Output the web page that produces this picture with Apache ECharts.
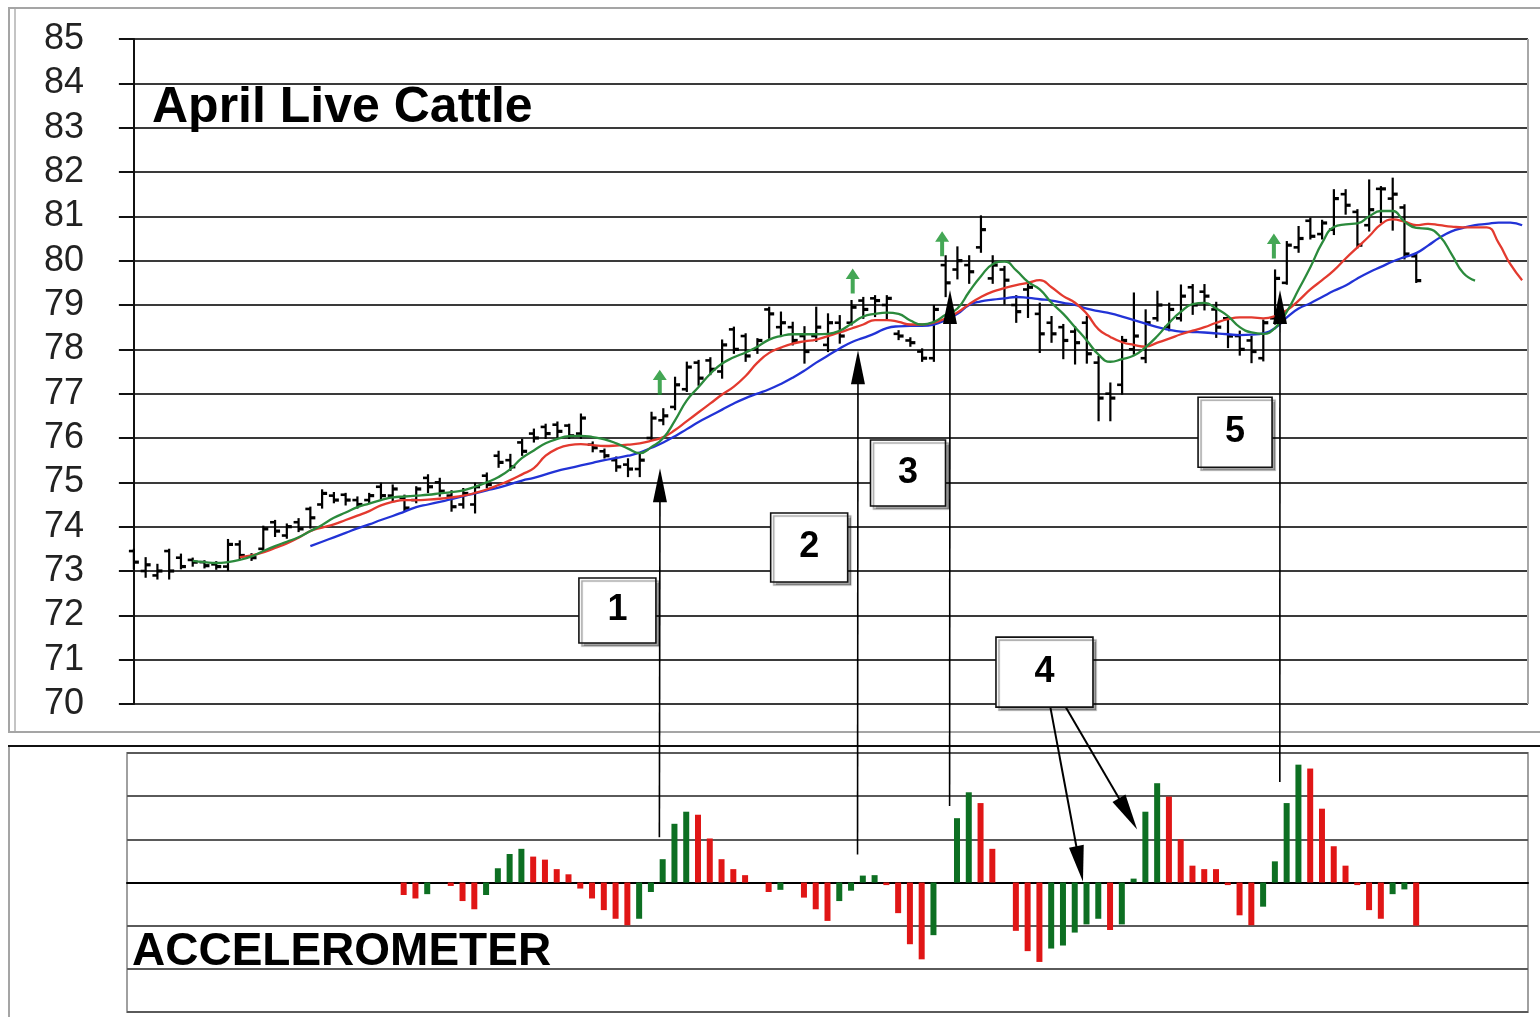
<!DOCTYPE html>
<html><head><meta charset="utf-8">
<script src="https://cdn.jsdelivr.net/npm/echarts@6/dist/echarts.min.js"></script>
<style>html,body{margin:0;padding:0;background:#fff}#c{width:1540px;height:1017px}</style>
</head><body><div id="c"></div><script>
// ---------- DATA ----------
const titleText = 'April Live Cattle';
const paneText = 'ACCELEROMETER';
const priceTicks = [70,71,72,73,74,75,76,77,78,79,80,81,82,83,84,85];
const slotCount = 119;

const opens = [73.45,73.0,72.9,73.45,73.3,73.25,73.2,73.15,73.1,73.6,
73.33,73.5,74.1,73.8,74.1,74.4,74.5,74.7,74.72,74.6,
74.6,74.9,74.7,74.65,74.6,75.1,75.0,74.7,74.5,74.5,
75.15,75.6,75.5,75.9,76.1,76.25,76.3,76.28,76.1,75.85,
75.7,75.5,75.4,75.3,76.0,76.4,76.7,77.1,77.7,77.75,
77.5,78.45,78.3,78.0,78.9,78.5,78.5,78.3,78.3,78.1,
78.6,78.6,79.1,79.15,79.0,78.35,78.2,77.95,77.8,79.9,
79.8,79.9,80.3,79.6,79.8,79.0,79.35,78.8,78.6,78.5,
78.4,78.6,77.7,77.0,77.2,78.0,77.8,78.7,78.5,78.7,
79.4,79.3,78.9,78.7,78.3,78.2,77.8,78.7,79.5,80.3,
80.9,80.6,80.7,81.5,81.1,80.8,81.62,81.4,81.2,80.1];
const highs = [73.48,73.29,73.14,73.48,73.37,73.28,73.22,73.2,73.7,73.67,
73.38,74.0,74.13,74.05,74.17,74.43,74.82,74.76,74.74,74.66,
74.74,74.97,74.93,74.7,74.89,75.16,75.08,74.8,74.85,74.97,
75.2,75.69,75.62,75.96,76.19,76.3,76.35,76.3,76.53,75.9,
75.74,75.56,75.52,75.63,76.57,76.65,77.36,77.7,77.74,77.8,
78.2,78.49,78.34,78.23,78.94,78.83,78.6,78.5,78.94,78.79,
78.75,79.09,79.16,79.2,79.2,78.41,78.25,78.0,78.98,80.1,
80.3,80.1,81.0,80.1,79.86,79.2,79.48,79.03,78.73,78.55,
78.5,78.73,77.83,77.23,78.28,79.26,78.88,79.3,79.03,79.44,
79.45,79.45,79.05,78.73,78.4,78.28,78.65,79.78,80.42,80.76,
80.95,80.9,81.59,81.59,81.14,81.81,81.66,81.85,81.25,80.16];
const lows = [73.06,72.87,72.83,72.83,73.06,73.12,73.08,73.05,73.02,73.29,
73.25,73.44,73.79,73.75,73.9,73.98,74.43,74.55,74.5,74.43,
74.55,74.63,74.6,74.36,74.55,74.78,74.7,74.36,74.43,74.32,
74.89,75.35,75.28,75.62,75.92,76.0,76.0,76.0,76.0,75.7,
75.56,75.26,75.14,75.14,75.97,76.31,76.65,77.06,77.2,77.44,
77.36,77.92,77.74,77.92,78.26,78.3,78.11,77.7,78.19,77.96,
78.15,78.56,78.71,78.75,78.7,78.23,78.08,77.74,77.74,79.2,
79.6,79.5,80.2,79.5,79.03,78.62,78.73,77.94,78.17,77.8,
77.68,77.7,76.4,76.4,77.0,77.9,77.71,78.65,78.43,78.65,
78.8,78.9,78.28,78.05,77.88,77.71,77.75,78.58,79.48,80.2,
80.5,80.5,80.6,81.06,80.3,80.68,80.87,80.7,80.05,79.52];
const closes = [73.2,73.14,73.0,73.0,73.1,73.2,73.12,73.1,73.6,73.35,
73.3,73.95,73.9,74.0,73.95,74.2,74.75,74.6,74.6,74.5,
74.7,74.7,74.85,74.42,74.85,74.9,74.8,74.45,74.75,74.9,
74.95,75.45,75.35,75.7,76.0,76.1,76.15,76.05,76.45,75.78,
75.6,75.35,75.3,75.5,76.45,76.5,77.2,77.6,77.35,77.55,
78.1,78.0,77.85,78.2,78.8,78.6,78.2,77.95,78.5,78.6,
78.3,78.95,78.9,79.1,79.15,78.3,78.15,77.8,78.9,79.5,
80.0,79.75,80.7,79.9,79.56,78.85,79.4,78.35,78.35,78.2,
78.15,77.9,76.9,76.9,78.2,78.3,78.6,79.0,78.9,79.2,
79.0,79.2,78.5,78.3,78.0,77.95,78.6,79.6,80.35,80.5,
80.55,80.85,81.4,81.25,80.35,81.15,81.62,81.5,80.15,79.55];

const greenStart = 5;
const greenMA = [73.23,73.2,73.18,73.2,73.25,73.33,73.45,73.56,73.66,73.76,
73.9,74.04,74.2,74.32,74.44,74.52,74.6,74.66,74.68,74.7,
74.72,74.75,74.78,74.82,74.9,75.0,75.12,75.3,75.55,75.72,
75.88,75.98,76.04,76.05,76.02,75.97,75.88,75.76,75.66,75.8,
76.0,76.4,76.85,77.15,77.45,77.68,77.82,77.93,78.06,78.22,
78.3,78.34,78.34,78.34,78.35,78.42,78.58,78.74,78.8,78.83,
78.8,78.65,78.56,78.62,78.78,78.92,79.3,79.65,79.92,79.98,
79.78,79.52,79.35,79.05,78.8,78.5,78.2,77.88,77.72,77.78,
77.86,78.05,78.3,78.6,78.85,79.02,79.05,78.92,78.75,78.5,
78.38,78.35,78.48,78.85,79.35,79.85,80.4,80.76,80.82,80.84,
81.0,81.12,81.12,80.88,80.74,80.72,80.55,80.15,79.72,79.55];
const redStart = 9;
const redMA = [73.31,73.35,73.42,73.52,73.62,73.75,73.9,73.98,74.05,74.15,
74.25,74.35,74.48,74.56,74.6,74.6,74.61,74.63,74.66,74.7,
74.76,74.84,74.94,75.05,75.18,75.32,75.6,75.76,75.84,75.86,
75.84,75.82,75.83,75.85,75.88,75.94,76.02,76.18,76.38,76.58,
76.78,76.98,77.16,77.4,77.7,77.92,78.04,78.13,78.18,78.22,
78.3,78.38,78.47,78.56,78.66,78.66,78.62,78.56,78.56,78.6,
78.7,78.83,79.02,79.18,79.3,79.38,79.45,79.5,79.56,79.4,
79.2,79.05,78.8,78.45,78.28,78.16,78.1,78.06,78.15,78.24,
78.34,78.42,78.5,78.6,78.68,78.72,78.72,78.7,78.75,78.88,
79.1,79.35,79.56,79.78,80.05,80.3,80.55,80.82,80.93,80.88,
80.8,80.83,80.8,80.77,80.75,80.75,80.75,80.4,79.92,79.56];
const blueStart = 15;
const blueMA = [73.56,73.66,73.76,73.86,73.96,74.05,74.15,74.24,74.34,74.44,
74.5,74.56,74.62,74.69,74.75,74.82,74.88,74.96,75.04,75.1,
75.18,75.26,75.32,75.38,75.44,75.5,75.55,75.6,75.67,75.78,
75.9,76.04,76.2,76.36,76.5,76.64,76.78,76.9,77.0,77.1,
77.22,77.36,77.52,77.7,77.86,78.02,78.16,78.26,78.36,78.48,
78.52,78.53,78.53,78.56,78.66,78.8,79.0,79.08,79.12,79.15,
79.18,79.16,79.13,79.1,79.05,79.0,78.92,78.86,78.81,78.74,
78.66,78.58,78.5,78.44,78.4,78.39,78.38,78.36,78.34,78.32,
78.33,78.36,78.48,78.72,78.92,79.04,79.18,79.32,79.44,79.6,
79.74,79.86,79.98,80.08,80.17,80.34,80.52,80.66,80.74,80.8,
80.83,80.86,80.86,80.8];

const accelStart = 23;
const accel = [-0.29,-0.37,-0.27,null,-0.08,-0.43,-0.62,-0.29,0.33,0.66,
0.78,0.6,0.53,0.31,0.19,-0.14,-0.37,-0.64,-0.84,-0.99,
-0.84,-0.22,0.54,1.36,1.64,1.57,1.02,0.54,0.31,0.17,
null,-0.22,-0.17,null,-0.35,-0.62,-0.89,-0.43,-0.19,0.16,
0.17,-0.06,-0.71,-1.43,-1.78,-1.22,null,1.49,2.09,1.84,
0.78,null,-1.12,-1.59,-1.84,-1.53,-1.46,-1.16,-0.97,-0.84,
-1.1,-0.97,0.09,1.64,2.30,1.99,1.0,0.39,0.31,0.31,
-0.06,-0.76,-0.99,-0.56,0.49,1.84,2.73,2.64,1.71,0.84,
0.39,-0.06,-0.64,-0.84,-0.27,-0.16,-1.0];

const signalIdx = [44.7, 61.1, 68.7, 96.9];
const signalVal = [77.26, 79.54, 80.38, 80.33];

const boxLabels = ['1','2','3','4','5'];
const boxIdx = [41.1, 57.4, 65.8, 77.4, 93.6];
const boxVal = [72.11, 73.53, 75.21, 70.72, 76.13];

const arrowIdx = [44.72, 61.55, 69.37, 97.42];
const arrowTipPrice = [75.32, 77.98, 79.34, 79.34];
const arrowBaseAccel = [1.05, 0.65, 1.77, 2.33];

const diagFromIdx = [77.9, 79.2];
const diagFromPrice = [69.93, 69.93];
const diagToIdx = [80.7, 85.3];
const diagToAccel = [0.02, 1.23];

// ---------- STYLE ----------
const FONT = "'Liberation Sans', Arial, sans-serif";
const boxSizes = [[77,65],[77,69],[75,66],[97,70],[74,70]];
const GREEN_H = '#0d6f22', RED_H = '#e01616';

const chart = echarts.init(document.getElementById('c'));

const ohlc = opens.map((o,i)=>[i,o,highs[i],lows[i],closes[i]]);
const maData = (start, arr) => arr.map((v,k)=>[start+k, v]);
const accelData = accel.map((v,k)=>[accelStart+k, v]);
const signalData = signalIdx.map((x,k)=>[x, signalVal[k]]);

const option = {
  animation:false,
  backgroundColor:'#fff',
  grid:[
    {left:128,right:12,top:39,height:665,show:false},
    {left:127,right:12,top:753,height:259,show:true,borderColor:'#a0a0a0',borderWidth:2}
  ],
  xAxis:[
    {type:'value',gridIndex:0,min:-0.5,max:slotCount-0.5,show:false},
    {type:'value',gridIndex:1,min:-0.5,max:slotCount-0.5,
     axisLine:{show:true,onZero:true,lineStyle:{color:'#000',width:2}},
     axisTick:{show:false},axisLabel:{show:false},splitLine:{show:false}}
  ],
  yAxis:[
    {type:'value',gridIndex:0,min:priceTicks[0],max:priceTicks[priceTicks.length-1],interval:1,
     axisLine:{show:true,lineStyle:{color:'#111',width:2}},
     axisTick:{show:true,length:15,lineStyle:{color:'#111',width:2}},
     axisLabel:{fontSize:36,color:'#222',margin:44,fontFamily:FONT},
     splitLine:{show:true,lineStyle:{color:'#3a3a3a',width:2}}},
    {type:'value',gridIndex:1,min:-3,max:3,interval:1,
     axisLine:{show:false},axisTick:{show:false},axisLabel:{show:false},
     splitLine:{show:true,lineStyle:{color:'#5a5a5a',width:2}}}
  ],
  series:[
    {type:'custom',xAxisIndex:0,yAxisIndex:0,z:2,data:ohlc,
     encode:{x:0,y:[1,2,3,4]},
     renderItem:function(params,api){
       const x=api.value(0);
       const o=api.coord([x,api.value(1)]), h=api.coord([x,api.value(2)]),
             l=api.coord([x,api.value(3)]), c=api.coord([x,api.value(4)]);
       return {type:'group',children:[
         {type:'line',shape:{x1:h[0],y1:h[1]-1,x2:l[0],y2:l[1]+1},style:{stroke:'#000',lineWidth:2.2}},
         {type:'line',shape:{x1:o[0]-5,y1:o[1],x2:o[0],y2:o[1]},style:{stroke:'#000',lineWidth:2.6}},
         {type:'line',shape:{x1:c[0],y1:c[1],x2:c[0]+5,y2:c[1]},style:{stroke:'#000',lineWidth:3.2}}
       ]};
     }},
    {type:'line',xAxisIndex:0,yAxisIndex:0,z:3,data:maData(blueStart,blueMA),smooth:true,showSymbol:false,
     lineStyle:{color:'#2233d6',width:2.3}},
    {type:'line',xAxisIndex:0,yAxisIndex:0,z:3,data:maData(redStart,redMA),smooth:true,showSymbol:false,
     lineStyle:{color:'#e33a2f',width:2.3}},
    {type:'line',xAxisIndex:0,yAxisIndex:0,z:3,data:maData(greenStart,greenMA),smooth:true,showSymbol:false,
     lineStyle:{color:'#2b8a3c',width:2.3}},
    {type:'scatter',xAxisIndex:0,yAxisIndex:0,z:4,data:signalData,
     symbol:'path://M7,0L14,10L9,10L9,24L5,24L5,10L0,10Z',symbolSize:[14,25],
     itemStyle:{color:'#15912a'}},
    {type:'bar',xAxisIndex:1,yAxisIndex:1,z:2,data:accelData,barWidth:6,
     itemStyle:{color:function(p){
       const k=p.dataIndex; const v=accel[k];
       const prev=(k>0 && accel[k-1]!=null)?accel[k-1]:0;
       return v>prev?GREEN_H:RED_H;
     }}}
  ]
};
chart.setOption(option);

// ---------- annotations placed through the chart's own scales ----------
const P=(g,pt)=>chart.convertToPixel({gridIndex:g},pt);
function head(tip,from,len,wid){
  const dx=tip[0]-from[0], dy=tip[1]-from[1], d=Math.hypot(dx,dy);
  const ux=dx/d, uy=dy/d, bx=tip[0]-ux*len, by=tip[1]-uy*len, px=-uy, py=ux;
  return {points:[[tip[0],tip[1]],[bx+px*wid/2,by+py*wid/2],[bx-px*wid/2,by-py*wid/2]], base:[bx+ux*2,by+uy*2]};
}
const g=[];
// frames
const tl=P(0,[-0.5,priceTicks[priceTicks.length-1]]), br=P(0,[slotCount-0.5,priceTicks[0]]);
g.push({type:'line',z:0,silent:true,shape:{x1:br[0],y1:tl[1],x2:br[0],y2:br[1]},style:{stroke:'#a8a8a8',lineWidth:2}});
g.push({type:'rect',z:0,silent:true,shape:{x:9,y:8,width:1545,height:724},style:{fill:null,stroke:'#a5a5a5',lineWidth:2}});
g.push({type:'line',z:0,silent:true,shape:{x1:15,y1:9,x2:15,y2:731},style:{stroke:'#c4c4c4',lineWidth:2}});
g.push({type:'line',z:0,silent:true,shape:{x1:8,y1:746,x2:1540,y2:746},style:{stroke:'#111',lineWidth:2}});
g.push({type:'line',z:0,silent:true,shape:{x1:9,y1:747,x2:9,y2:1017},style:{stroke:'#a5a5a5',lineWidth:2}});
// titles
g.push({type:'text',z:50,style:{text:titleText,x:152,y:108,font:"bold 50px "+FONT,fill:'#000',textVerticalAlign:'middle'}});
g.push({type:'text',z:50,style:{text:paneText,x:132,y:952,font:"bold 46px "+FONT,fill:'#000',textVerticalAlign:'middle'}});
// vertical arrows
arrowIdx.forEach((x,k)=>{
  const base=P(1,[x,arrowBaseAccel[k]]), tip=P(0,[x,arrowTipPrice[k]]);
  const h=head(tip,base,34,14);
  g.push({type:'line',z:60,shape:{x1:base[0],y1:base[1],x2:h.base[0],y2:h.base[1]},style:{stroke:'#000',lineWidth:1.6}});
  g.push({type:'polygon',z:60,shape:{points:h.points},style:{fill:'#000'}});
});
// diagonal arrows from box 4
diagFromIdx.forEach((x,k)=>{
  const from=P(0,[x,diagFromPrice[k]]), tip=P(1,[diagToIdx[k],diagToAccel[k]]);
  const h=head(tip,from,36,15);
  g.push({type:'line',z:60,shape:{x1:from[0],y1:from[1],x2:h.base[0],y2:h.base[1]},style:{stroke:'#000',lineWidth:2}});
  g.push({type:'polygon',z:60,shape:{points:h.points},style:{fill:'#000'}});
});
// numbered boxes
boxLabels.forEach((t,k)=>{
  const c=P(0,[boxIdx[k],boxVal[k]]), s=boxSizes[k];
  g.push({type:'rect',z:70,shape:{x:c[0]-s[0]/2,y:c[1]-s[1]/2,width:s[0],height:s[1]},
    style:{fill:'#fff',stroke:'#111',lineWidth:1.6,shadowColor:'rgba(0,0,0,0.35)',shadowOffsetX:3,shadowOffsetY:3,shadowBlur:1}});
  g.push({type:'text',z:71,style:{text:t,x:c[0],y:c[1],font:"bold 36px "+FONT,fill:'#000',textAlign:'center',textVerticalAlign:'middle'}});
});
chart.setOption({graphic:g});
</script></body></html>
